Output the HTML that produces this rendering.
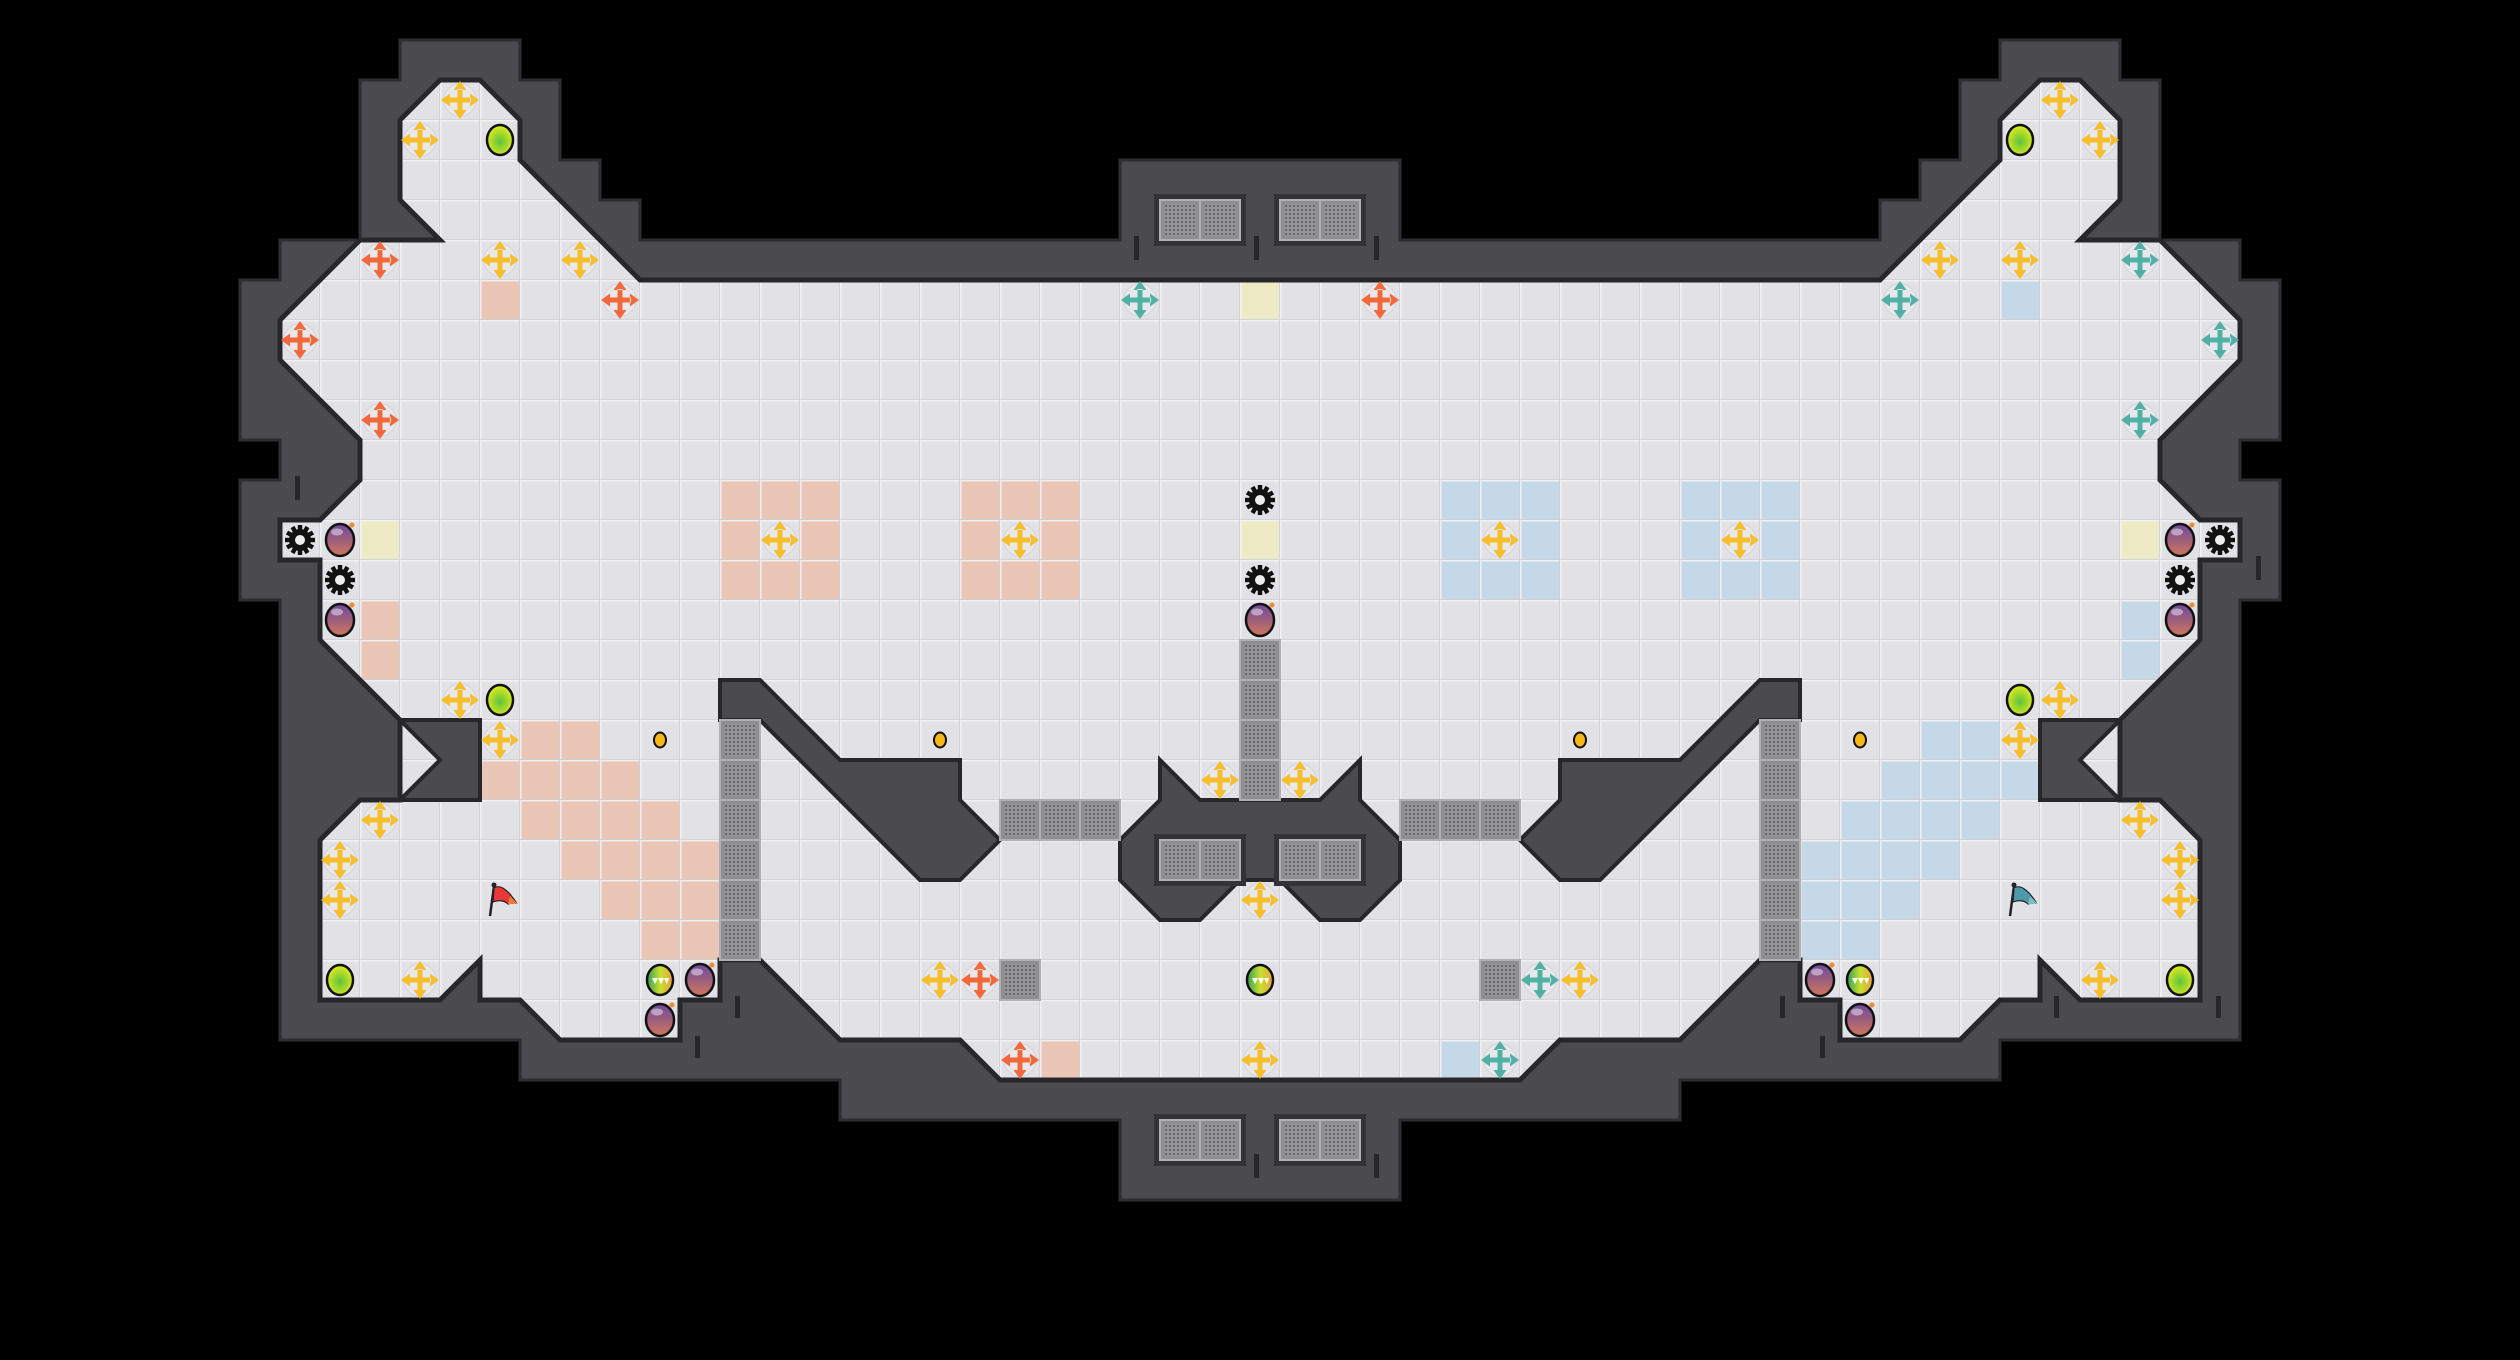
<!DOCTYPE html>
<html><head><meta charset="utf-8"><style>html,body{margin:0;padding:0;background:#000}svg{display:block}</style></head>
<body>
<svg width="2520" height="1360" viewBox="0 0 2520 1360" xmlns="http://www.w3.org/2000/svg">
<defs>
<pattern id="lines" width="40" height="40" patternUnits="userSpaceOnUse"><path d="M0,0.75H40M0.75,0V40" stroke="#f4f4f6" stroke-width="1.6" opacity="0.85"/><path d="M0,39.5H40M39.5,0V40" stroke="#cfcfd4" stroke-width="1" opacity="0.8"/></pattern>
<pattern id="dots" width="4" height="4" patternUnits="userSpaceOnUse"><rect width="4" height="4" fill="#959597"/><rect x="1" y="1" width="2" height="2" fill="#67676a"/></pattern>
<radialGradient id="gg" cx="0.5" cy="0.55" r="0.55"><stop offset="0" stop-color="#5cc23e"/><stop offset="1" stop-color="#e6ec1c"/></radialGradient>
<linearGradient id="bg" x1="0" y1="0" x2="0" y2="1"><stop offset="0" stop-color="#6e4a9e"/><stop offset="1" stop-color="#d0745a"/></linearGradient>
<linearGradient id="rg" x1="0" y1="0" x2="1" y2="0"><stop offset="0" stop-color="#2f9e58"/><stop offset="0.5" stop-color="#c8e02e"/><stop offset="1" stop-color="#e8a23a"/></linearGradient>
<clipPath id="fc"><polygon id="fp" points="640,280 520,160 520,120 480,80 440,80 400,120 400,200 440,240 360,240 280,320 280,360 360,440 360,480 320,520 280,520 280,560 320,560 320,640 400,720 400,800 360,800 320,840 320,1000 440,1000 480,960 480,1000 520,1000 560,1040 680,1040 680,1000 720,1000 720,960 760,960 840,1040 960,1040 1000,1080 1520,1080 1560,1040 1680,1040 1760,960 1800,960 1800,1000 1840,1000 1840,1040 1960,1040 2000,1000 2040,1000 2040,960 2080,1000 2200,1000 2200,840 2160,800 2120,800 2120,720 2200,640 2200,560 2240,560 2240,520 2200,520 2160,480 2160,440 2240,360 2240,320 2160,240 2080,240 2120,200 2120,120 2080,80 2040,80 2000,120 2000,160 1880,280"/></clipPath>
<g id="pl"><circle r="16" fill="#e8e8ec" stroke="#d6d6da" stroke-width="1"/><path fill="currentColor" d="M-2.5,-11H2.5V-2.5H11V2.5H2.5V11H-2.5V2.5H-11V-2.5H-2.5Z M0,-19L-6.5,-10H6.5Z M0,19L-6.5,10H6.5Z M-19,0L-10,-6.5V6.5Z M19,0L10,-6.5V6.5Z"/></g>
<g id="gb"><ellipse rx="13" ry="15" fill="url(#gg)" stroke="#111" stroke-width="2.5"/></g>
<g id="bm"><ellipse rx="14" ry="16" fill="url(#bg)" stroke="#111" stroke-width="2.5"/><ellipse cx="-3" cy="-8" rx="6" ry="3.5" fill="#fff" opacity="0.45"/><circle cx="12" cy="-15" r="2.5" fill="#f08a30"/></g>
<g id="rb"><ellipse rx="13" ry="15" fill="url(#rg)" stroke="#111" stroke-width="2.5"/><path d="M-8,-2L-5,4L-2,-2ZM-2,-2L1,4L4,-2ZM4,-2L7,4L9,-2Z" fill="#fff"/></g>
<g id="gear"><circle r="11" fill="#111"/><g fill="#111"><rect x="-2.2" y="-15" width="4.4" height="30"/><rect x="-2.2" y="-15" width="4.4" height="30" transform="rotate(30)"/><rect x="-2.2" y="-15" width="4.4" height="30" transform="rotate(60)"/><rect x="-2.2" y="-15" width="4.4" height="30" transform="rotate(90)"/><rect x="-2.2" y="-15" width="4.4" height="30" transform="rotate(120)"/><rect x="-2.2" y="-15" width="4.4" height="30" transform="rotate(150)"/></g><circle r="5" fill="#eee"/></g>
<g id="dot"><ellipse rx="6" ry="7.5" fill="#f6b81a" stroke="#111" stroke-width="2"/></g>
<g id="gr"><rect x="0" y="0" width="40" height="40" fill="#8e8e90" stroke="#b0b0b2" stroke-width="2"/><rect x="4" y="4" width="32" height="32" fill="url(#dots)"/></g>
</defs>
<rect width="2520" height="1360" fill="#000"/>
<!-- outer wall -->
<polygon points="400,40 520,40 520,80 560,80 560,160 600,160 600,200 640,200 640,240 1120,240 1120,160 1400,160 1400,240 1880,240 1880,200 1920,200 1920,160 1960,160 1960,80 2000,80 2000,40 2120,40 2120,80 2160,80 2160,240 2240,240 2240,280 2280,280 2280,440 2240,440 2240,480 2280,480 2280,600 2240,600 2240,1040 2000,1040 2000,1080 1680,1080 1680,1120 1400,1120 1400,1200 1120,1200 1120,1120 840,1120 840,1080 520,1080 520,1040 280,1040 280,600 240,600 240,480 280,480 280,440 240,440 240,280 280,280 280,240 360,240 360,80 400,80" fill="#4b4a4f" stroke="#2e2d32" stroke-width="3"/>
<!-- floor base -->
<use href="#fp" fill="#e2e2e6"/>
<!-- colored tiles -->
<g fill="#eac6b7">
<rect x="480" y="280" width="40" height="40"/><rect x="360" y="600" width="40" height="80"/>
<rect x="720" y="480" width="120" height="120"/><rect x="960" y="480" width="120" height="120"/>
<rect x="520" y="720" width="80" height="40"/><rect x="480" y="760" width="160" height="40"/><rect x="520" y="800" width="160" height="40"/><rect x="560" y="840" width="160" height="40"/><rect x="600" y="880" width="120" height="40"/><rect x="640" y="920" width="80" height="40"/>
<rect x="1040" y="1040" width="40" height="40"/>
</g>
<g fill="#c4d8e8">
<rect x="2000" y="280" width="40" height="40"/><rect x="2120" y="600" width="40" height="80"/>
<rect x="1680" y="480" width="120" height="120"/><rect x="1440" y="480" width="120" height="120"/>
<rect x="1920" y="720" width="80" height="40"/><rect x="1880" y="760" width="160" height="40"/><rect x="1840" y="800" width="160" height="40"/><rect x="1800" y="840" width="160" height="40"/><rect x="1800" y="880" width="120" height="40"/><rect x="1800" y="920" width="80" height="40"/>
<rect x="1440" y="1040" width="40" height="40"/>
</g>
<g fill="#e2e2e6"><rect x="760" y="520" width="40" height="40"/><rect x="1000" y="520" width="40" height="40"/><rect x="1720" y="520" width="40" height="40"/><rect x="1480" y="520" width="40" height="40"/></g>
<g fill="#ecebc6"><rect x="1240" y="280" width="40" height="40"/><rect x="360" y="520" width="40" height="40"/><rect x="1240" y="520" width="40" height="40"/><rect x="2120" y="520" width="40" height="40"/></g>
<rect width="2520" height="1360" fill="url(#lines)" clip-path="url(#fc)"/>
<use href="#fp" fill="none" stroke="#27262a" stroke-width="5" stroke-linejoin="miter"/>
<!-- interior walls -->
<g fill="#4b4a4f" stroke="#27262a" stroke-width="4" stroke-linejoin="miter">
<polygon points="400,720 480,720 480,800 400,800 440,760"/>
<polygon points="2120,720 2040,720 2040,800 2120,800 2080,760"/>
<polygon points="720,680 760,680 840,760 960,760 960,800 1000,840 960,880 920,880 760,720 720,720"/>
<polygon points="1800,680 1760,680 1680,760 1560,760 1560,800 1520,840 1560,880 1600,880 1760,720 1800,720"/>
<polygon points="1160,760 1200,800 1320,800 1360,760 1360,800 1400,840 1400,880 1360,920 1320,920 1280,880 1240,880 1200,920 1160,920 1120,880 1120,840 1160,800"/>
</g>
<!-- grate frames -->
<g fill="#333237">
<rect x="1154" y="194" width="92" height="52"/><rect x="1274" y="194" width="92" height="52"/>
<rect x="1154" y="834" width="92" height="52"/><rect x="1274" y="834" width="92" height="52"/>
<rect x="1154" y="1114" width="92" height="52"/><rect x="1274" y="1114" width="92" height="52"/>
</g>
<!-- grates -->
<g>
<use href="#gr" x="1160" y="200"/><use href="#gr" x="1200" y="200"/><use href="#gr" x="1280" y="200"/><use href="#gr" x="1320" y="200"/>
<use href="#gr" x="1160" y="840"/><use href="#gr" x="1200" y="840"/><use href="#gr" x="1280" y="840"/><use href="#gr" x="1320" y="840"/>
<use href="#gr" x="1160" y="1120"/><use href="#gr" x="1200" y="1120"/><use href="#gr" x="1280" y="1120"/><use href="#gr" x="1320" y="1120"/>
<use href="#gr" x="720" y="720"/><use href="#gr" x="720" y="760"/><use href="#gr" x="720" y="800"/><use href="#gr" x="720" y="840"/><use href="#gr" x="720" y="880"/><use href="#gr" x="720" y="920"/>
<use href="#gr" x="1760" y="720"/><use href="#gr" x="1760" y="760"/><use href="#gr" x="1760" y="800"/><use href="#gr" x="1760" y="840"/><use href="#gr" x="1760" y="880"/><use href="#gr" x="1760" y="920"/>
<use href="#gr" x="1240" y="640"/><use href="#gr" x="1240" y="680"/><use href="#gr" x="1240" y="720"/><use href="#gr" x="1240" y="760"/>
<use href="#gr" x="1000" y="800"/><use href="#gr" x="1040" y="800"/><use href="#gr" x="1080" y="800"/>
<use href="#gr" x="1400" y="800"/><use href="#gr" x="1440" y="800"/><use href="#gr" x="1480" y="800"/>
<use href="#gr" x="1000" y="960"/><use href="#gr" x="1480" y="960"/>
</g>
<!-- ticks -->
<g fill="#27262a">
<rect x="1134" y="236" width="5" height="24"/><rect x="1254" y="236" width="5" height="24"/><rect x="1374" y="236" width="5" height="24"/>
<rect x="1254" y="1154" width="5" height="24"/><rect x="1374" y="1154" width="5" height="24"/>
<rect x="735" y="996" width="5" height="22"/><rect x="695" y="1036" width="5" height="22"/>
<rect x="1780" y="996" width="5" height="22"/><rect x="1820" y="1036" width="5" height="22"/>
<rect x="295" y="476" width="5" height="24"/><rect x="2256" y="556" width="5" height="24"/>
<rect x="2054" y="996" width="5" height="22"/><rect x="2216" y="996" width="5" height="22"/>
</g>
<!-- yellow plus -->
<g style="color:#f7bd2a">
<use href="#pl" x="460" y="100"/><use href="#pl" x="420" y="140"/><use href="#pl" x="500" y="260"/><use href="#pl" x="580" y="260"/>
<use href="#pl" x="780" y="540"/><use href="#pl" x="1020" y="540"/><use href="#pl" x="460" y="700"/><use href="#pl" x="500" y="740"/>
<use href="#pl" x="380" y="820"/><use href="#pl" x="340" y="860"/><use href="#pl" x="340" y="900"/><use href="#pl" x="420" y="980"/><use href="#pl" x="940" y="980"/>
<use href="#pl" x="1220" y="780"/><use href="#pl" x="1300" y="780"/><use href="#pl" x="1260" y="900"/><use href="#pl" x="1260" y="1060"/>
<use href="#pl" x="2060" y="100"/><use href="#pl" x="2100" y="140"/><use href="#pl" x="1940" y="260"/><use href="#pl" x="2020" y="260"/>
<use href="#pl" x="1500" y="540"/><use href="#pl" x="1740" y="540"/><use href="#pl" x="2060" y="700"/><use href="#pl" x="2020" y="740"/>
<use href="#pl" x="2140" y="820"/><use href="#pl" x="2180" y="860"/><use href="#pl" x="2180" y="900"/><use href="#pl" x="2100" y="980"/><use href="#pl" x="1580" y="980"/>
</g>
<g style="color:#f2683a">
<use href="#pl" x="380" y="260"/><use href="#pl" x="620" y="300"/><use href="#pl" x="300" y="340"/><use href="#pl" x="380" y="420"/>
<use href="#pl" x="980" y="980"/><use href="#pl" x="1020" y="1060"/><use href="#pl" x="1380" y="300"/>
</g>
<g style="color:#4fb0a3">
<use href="#pl" x="2140" y="260"/><use href="#pl" x="1900" y="300"/><use href="#pl" x="1140" y="300"/><use href="#pl" x="2220" y="340"/>
<use href="#pl" x="2140" y="420"/><use href="#pl" x="1540" y="980"/><use href="#pl" x="1500" y="1060"/>
</g>
<!-- balls -->
<use href="#gb" x="500" y="140"/><use href="#gb" x="500" y="700"/><use href="#gb" x="340" y="980"/>
<use href="#gb" x="2020" y="140"/><use href="#gb" x="2020" y="700"/><use href="#gb" x="2180" y="980"/>
<use href="#bm" x="340" y="540"/><use href="#bm" x="340" y="620"/><use href="#bm" x="1260" y="620"/><use href="#bm" x="700" y="980"/><use href="#bm" x="660" y="1020"/>
<use href="#bm" x="2180" y="540"/><use href="#bm" x="2180" y="620"/><use href="#bm" x="1820" y="980"/><use href="#bm" x="1860" y="1020"/>
<use href="#gear" x="300" y="540"/><use href="#gear" x="340" y="580"/><use href="#gear" x="1260" y="500"/><use href="#gear" x="1260" y="580"/><use href="#gear" x="2220" y="540"/><use href="#gear" x="2180" y="580"/>
<use href="#dot" x="660" y="740"/><use href="#dot" x="940" y="740"/><use href="#dot" x="1580" y="740"/><use href="#dot" x="1860" y="740"/>
<use href="#rb" x="660" y="980"/><use href="#rb" x="1260" y="980"/><use href="#rb" x="1860" y="980"/>
<!-- flags -->
<g transform="translate(500,900)"><line x1="-10" y1="16" x2="-6" y2="-14" stroke="#222" stroke-width="2.5"/><circle cx="-6" cy="-15" r="2.5" fill="#222"/><path d="M-6,-12 C0,-16 6,-10 10,-6 L16,2 L8,4 C4,0 -2,0 -7,2Z" fill="#e8383a" stroke="#222" stroke-width="1.2"/><path d="M10,-4L18,4L8,4Z" fill="#f07a3a"/></g>
<g transform="translate(2020,900)"><line x1="-10" y1="16" x2="-6" y2="-14" stroke="#222" stroke-width="2.5"/><circle cx="-6" cy="-15" r="2.5" fill="#222"/><path d="M-6,-12 C0,-16 6,-10 10,-6 L16,2 L8,4 C4,0 -2,0 -7,2Z" fill="#4a9aaa" stroke="#222" stroke-width="1.2"/><path d="M10,-4L18,4L8,4Z" fill="#7ac0c0"/></g>
</svg>
</body></html>
